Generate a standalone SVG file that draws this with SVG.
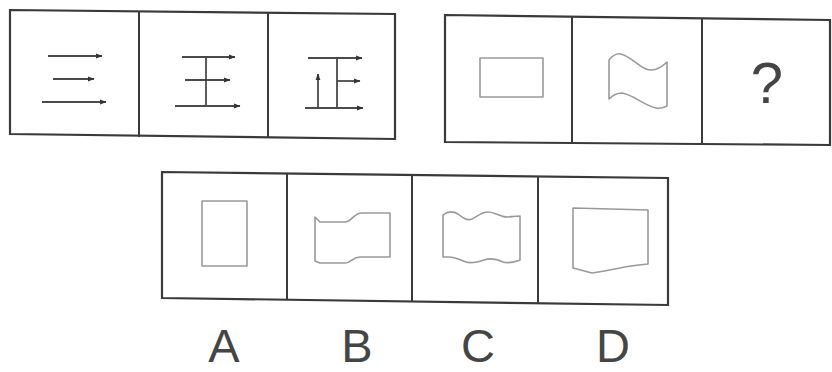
<svg xmlns="http://www.w3.org/2000/svg" width="832" height="372" viewBox="0 0 832 372">
  <style>
    .frame { fill: none; stroke: #3a3a3a; stroke-width: 2.2; stroke-linejoin: miter; }
    .div { stroke: #3a3a3a; stroke-width: 2; }
    .stroke { stroke: #4a4a4a; stroke-width: 1.8; fill: none; stroke-linecap: butt; }
    .arrow { marker-end: url(#tip); }
    .shape { fill: none; stroke: #9a9a9a; stroke-width: 1.6; stroke-linejoin: round; }
    .label { font-family: "Liberation Sans", Arial, sans-serif; fill: #454545; text-anchor: middle; }
  </style>
  <defs>
    <marker id="tip" markerUnits="userSpaceOnUse" markerWidth="7" markerHeight="6" refX="6" refY="3" orient="auto">
      <path d="M0,0.6 L6.5,3 L0,5.4 z" fill="#333"/>
    </marker>
  </defs>
  <rect width="832" height="372" fill="#ffffff"/>

  <g id="row1">
    <polygon class="frame" points="10,10 395,14 395,139 10,134"/>
    <line class="div" x1="139" y1="12" x2="139" y2="137"/>
    <line class="div" x1="268" y1="13" x2="268" y2="138"/>
    <g id="fig-san">
      <line class="stroke arrow" x1="48" y1="56" x2="102" y2="56"/>
      <line class="stroke arrow" x1="53" y1="79" x2="94" y2="79"/>
      <line class="stroke arrow" x1="42" y1="102" x2="106" y2="102"/>
    </g>
    <g id="fig-wang">
      <line class="stroke arrow" x1="182" y1="57" x2="235" y2="57"/>
      <line class="stroke arrow" x1="185" y1="80" x2="230" y2="80"/>
      <line class="stroke arrow" x1="175" y1="106" x2="240" y2="106"/>
      <line class="stroke" x1="206" y1="57" x2="206" y2="106"/>
    </g>
    <g id="fig-zheng">
      <line class="stroke arrow" x1="308" y1="58" x2="362" y2="58"/>
      <line class="stroke arrow" x1="337" y1="81" x2="360" y2="81"/>
      <line class="stroke arrow" x1="305" y1="108" x2="363" y2="108"/>
      <line class="stroke" x1="337" y1="58" x2="337" y2="108"/>
      <line class="stroke arrow" x1="318" y1="108" x2="318" y2="74"/>
    </g>
  </g>

  <g id="row2">
    <polygon class="frame" points="445,15 830,20 830,145 445,142"/>
    <line class="div" x1="572" y1="17" x2="572" y2="143"/>
    <line class="div" x1="702" y1="18" x2="702" y2="145"/>
    <g id="fig-rect">
      <rect class="shape" x="480" y="58" width="63" height="39"/>
    </g>
    <g id="fig-flag">
      <path class="shape" d="M609,60 C613,55 617,53 621,54 C630,56 638,66 646,69 C654,72 662,67 667,62 L667,106 C663,108 660,109 656,108 C645,106 632,94 622,93 C616,93 612,96 609,99 Z"/>
    </g>
    <g id="fig-q">
      <text class="label" x="767" y="103" font-size="58" fill="#3a3a3a">?</text>
    </g>
  </g>

  <g id="options">
    <polygon class="frame" points="162,172 668,178 668,305 162,298"/>
    <line class="div" x1="287" y1="173" x2="287" y2="300"/>
    <line class="div" x1="412" y1="175" x2="412" y2="302"/>
    <line class="div" x1="538" y1="177" x2="538" y2="303"/>
    <g id="opt-A">
      <rect class="shape" x="202" y="201" width="45" height="65"/>
    </g>
    <g id="opt-B">
      <path class="shape" d="M315,217 L320,222 L345,222 C352,222 353,213 362,213 L390,213 L390,257 L360,257 C352,257 352,263 345,263 L320,263 L315,261 Z"/>
    </g>
    <g id="opt-C">
      <path class="shape" d="M443,215 C448,211 453,211 458,214 C463,218 467,221 472,219 C477,217 481,212 488,212 C495,212 500,217 507,217 L520,216 L520,260 C514,262 509,264 503,262 C497,259 490,258 484,260 C478,262 472,264 466,262 C460,260 455,257 449,257 L443,257 Z"/>
    </g>
    <g id="opt-D">
      <path class="shape" d="M573,208 L648,210 L648,264 C638,265 628,266 620,268 C610,270 600,272 592,273 L573,268 Z"/>
    </g>
  </g>

  <g id="labels">
    <text class="label" x="224" y="362" font-size="47">A</text>
    <text class="label" x="357" y="362" font-size="47">B</text>
    <text class="label" x="478" y="362" font-size="47">C</text>
    <text class="label" x="613" y="362" font-size="47">D</text>
  </g>
</svg>
